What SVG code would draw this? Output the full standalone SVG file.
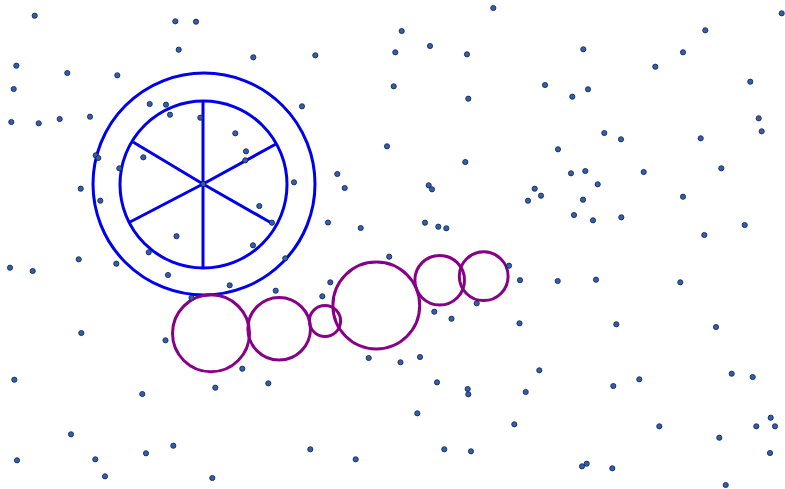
<svg xmlns="http://www.w3.org/2000/svg" width="785" height="489" viewBox="0 0 785 489">
<style>
.d{fill:#2f5fb3;stroke:#15203a;stroke-width:0.8}
.b{fill:none;stroke:#0000ee;stroke-width:3}
.p{fill:none;stroke:#880088;stroke-width:3}
</style>
<rect width="785" height="489" fill="#fff"/>
<g id="wheel">
<circle class="b" cx="204" cy="184" r="111"/>
<circle class="b" cx="203.5" cy="184.5" r="83.5"/>
<path class="b" d="M203 101V268M203 184L133 142M203 184L276 144M203 184L130 222M203 184L272.7 223.7"/>
</g>
<g id="chain">
<circle class="p" cx="211" cy="333.3" r="38.5"/>
<circle class="p" cx="279.2" cy="328.7" r="31.3"/>
<circle class="p" cx="325" cy="321" r="15.6"/>
<circle class="p" cx="376.3" cy="305.5" r="43.4"/>
<circle class="p" cx="439.7" cy="280.2" r="24.8"/>
<circle class="p" cx="483.7" cy="276.2" r="24.4"/>
</g>
<g id="dots">
<circle class="d" cx="34.7" cy="15.7" r="2.6"/>
<circle class="d" cx="175.3" cy="21.3" r="2.6"/>
<circle class="d" cx="196" cy="21.7" r="2.6"/>
<circle class="d" cx="178.7" cy="49.7" r="2.6"/>
<circle class="d" cx="253.3" cy="57.3" r="2.6"/>
<circle class="d" cx="315.3" cy="55.3" r="2.6"/>
<circle class="d" cx="395.3" cy="52.3" r="2.6"/>
<circle class="d" cx="401.7" cy="31" r="2.6"/>
<circle class="d" cx="16.3" cy="65.7" r="2.6"/>
<circle class="d" cx="67.3" cy="73" r="2.6"/>
<circle class="d" cx="117.3" cy="75.3" r="2.6"/>
<circle class="d" cx="13.7" cy="89" r="2.6"/>
<circle class="d" cx="393.7" cy="86.3" r="2.6"/>
<circle class="d" cx="11.3" cy="122" r="2.6"/>
<circle class="d" cx="38.7" cy="123.3" r="2.6"/>
<circle class="d" cx="59.7" cy="119" r="2.6"/>
<circle class="d" cx="90" cy="116.7" r="2.6"/>
<circle class="d" cx="149.7" cy="104" r="2.6"/>
<circle class="d" cx="166" cy="104.7" r="2.6"/>
<circle class="d" cx="170" cy="114.7" r="2.6"/>
<circle class="d" cx="200.3" cy="117.7" r="2.6"/>
<circle class="d" cx="302" cy="106.3" r="2.6"/>
<circle class="d" cx="235.3" cy="133.3" r="2.6"/>
<circle class="d" cx="246" cy="151.3" r="2.6"/>
<circle class="d" cx="245.3" cy="160.3" r="2.6"/>
<circle class="d" cx="387" cy="146.3" r="2.6"/>
<circle class="d" cx="95.7" cy="155.3" r="2.6"/>
<circle class="d" cx="98.3" cy="158" r="2.6"/>
<circle class="d" cx="143.3" cy="157.3" r="2.6"/>
<circle class="d" cx="119.3" cy="168.3" r="2.6"/>
<circle class="d" cx="203.3" cy="184" r="2.6"/>
<circle class="d" cx="294" cy="182.3" r="2.6"/>
<circle class="d" cx="337.3" cy="174" r="2.6"/>
<circle class="d" cx="344.7" cy="188" r="2.6"/>
<circle class="d" cx="80.7" cy="188.7" r="2.6"/>
<circle class="d" cx="100.3" cy="200.7" r="2.6"/>
<circle class="d" cx="259.3" cy="206" r="2.6"/>
<circle class="d" cx="272" cy="222.7" r="2.6"/>
<circle class="d" cx="328" cy="222.5" r="2.6"/>
<circle class="d" cx="360.7" cy="228" r="2.6"/>
<circle class="d" cx="176.5" cy="236.2" r="2.6"/>
<circle class="d" cx="253" cy="245.3" r="2.6"/>
<circle class="d" cx="285.3" cy="258.3" r="2.6"/>
<circle class="d" cx="10" cy="267.7" r="2.6"/>
<circle class="d" cx="32.7" cy="271" r="2.6"/>
<circle class="d" cx="78.7" cy="259.3" r="2.6"/>
<circle class="d" cx="116.3" cy="263.7" r="2.6"/>
<circle class="d" cx="148.7" cy="252.3" r="2.6"/>
<circle class="d" cx="168" cy="275" r="2.6"/>
<circle class="d" cx="229.7" cy="285.3" r="2.6"/>
<circle class="d" cx="275.7" cy="290.7" r="2.6"/>
<circle class="d" cx="191.5" cy="297.8" r="2.6"/>
<circle class="d" cx="330.3" cy="282.3" r="2.6"/>
<circle class="d" cx="322.3" cy="296.3" r="2.6"/>
<circle class="d" cx="389.2" cy="256.7" r="2.6"/>
<circle class="d" cx="81.3" cy="333" r="2.6"/>
<circle class="d" cx="165.5" cy="340.3" r="2.6"/>
<circle class="d" cx="242.3" cy="368.7" r="2.6"/>
<circle class="d" cx="14.3" cy="379.7" r="2.6"/>
<circle class="d" cx="142.3" cy="394" r="2.6"/>
<circle class="d" cx="215.3" cy="387.7" r="2.6"/>
<circle class="d" cx="268.3" cy="383.3" r="2.6"/>
<circle class="d" cx="368.7" cy="358" r="2.6"/>
<circle class="d" cx="400.5" cy="362.3" r="2.6"/>
<circle class="d" cx="420" cy="357" r="2.6"/>
<circle class="d" cx="71" cy="434.3" r="2.6"/>
<circle class="d" cx="17" cy="460.3" r="2.6"/>
<circle class="d" cx="95.3" cy="459.3" r="2.6"/>
<circle class="d" cx="105" cy="476.3" r="2.6"/>
<circle class="d" cx="146" cy="453.3" r="2.6"/>
<circle class="d" cx="173.3" cy="445.7" r="2.6"/>
<circle class="d" cx="212.3" cy="478" r="2.6"/>
<circle class="d" cx="310.3" cy="449.3" r="2.6"/>
<circle class="d" cx="355.7" cy="459.3" r="2.6"/>
<circle class="d" cx="509" cy="265.7" r="2.6"/>
<circle class="d" cx="520" cy="280.2" r="2.6"/>
<circle class="d" cx="476.7" cy="303.3" r="2.6"/>
<circle class="d" cx="434.3" cy="311.7" r="2.6"/>
<circle class="d" cx="451.5" cy="318.7" r="2.6"/>
<circle class="d" cx="519.5" cy="323.3" r="2.6"/>
<circle class="d" cx="493.3" cy="8" r="2.6"/>
<circle class="d" cx="781.7" cy="13.3" r="2.6"/>
<circle class="d" cx="705.3" cy="30.3" r="2.6"/>
<circle class="d" cx="430" cy="46" r="2.6"/>
<circle class="d" cx="467" cy="54.3" r="2.6"/>
<circle class="d" cx="583.3" cy="49.3" r="2.6"/>
<circle class="d" cx="683" cy="52.3" r="2.6"/>
<circle class="d" cx="655.3" cy="66.7" r="2.6"/>
<circle class="d" cx="750.3" cy="81.7" r="2.6"/>
<circle class="d" cx="545" cy="85" r="2.6"/>
<circle class="d" cx="588" cy="89.3" r="2.6"/>
<circle class="d" cx="572.3" cy="96.7" r="2.6"/>
<circle class="d" cx="468.3" cy="98.7" r="2.6"/>
<circle class="d" cx="758.7" cy="118.3" r="2.6"/>
<circle class="d" cx="761.7" cy="131.3" r="2.6"/>
<circle class="d" cx="604.3" cy="133" r="2.6"/>
<circle class="d" cx="621" cy="139.3" r="2.6"/>
<circle class="d" cx="700.7" cy="138.3" r="2.6"/>
<circle class="d" cx="558" cy="149.3" r="2.6"/>
<circle class="d" cx="465.3" cy="162" r="2.6"/>
<circle class="d" cx="571" cy="173.3" r="2.6"/>
<circle class="d" cx="585.3" cy="171" r="2.6"/>
<circle class="d" cx="643.7" cy="172" r="2.6"/>
<circle class="d" cx="721.3" cy="168.3" r="2.6"/>
<circle class="d" cx="428.7" cy="185.3" r="2.6"/>
<circle class="d" cx="432" cy="189.3" r="2.6"/>
<circle class="d" cx="597.7" cy="184.3" r="2.6"/>
<circle class="d" cx="534.7" cy="188.7" r="2.6"/>
<circle class="d" cx="541" cy="195.7" r="2.6"/>
<circle class="d" cx="528" cy="200.7" r="2.6"/>
<circle class="d" cx="583" cy="199.7" r="2.6"/>
<circle class="d" cx="683" cy="196.7" r="2.6"/>
<circle class="d" cx="425" cy="222.7" r="2.6"/>
<circle class="d" cx="438.3" cy="226.7" r="2.6"/>
<circle class="d" cx="446.3" cy="228.3" r="2.6"/>
<circle class="d" cx="574" cy="215" r="2.6"/>
<circle class="d" cx="593" cy="220.3" r="2.6"/>
<circle class="d" cx="621.3" cy="217.3" r="2.6"/>
<circle class="d" cx="744.7" cy="225" r="2.6"/>
<circle class="d" cx="704.3" cy="235" r="2.6"/>
<circle class="d" cx="557.7" cy="281" r="2.6"/>
<circle class="d" cx="596" cy="279.7" r="2.6"/>
<circle class="d" cx="680.3" cy="282.3" r="2.6"/>
<circle class="d" cx="616.3" cy="324.3" r="2.6"/>
<circle class="d" cx="716" cy="327" r="2.6"/>
<circle class="d" cx="539.3" cy="370.3" r="2.6"/>
<circle class="d" cx="437" cy="382.3" r="2.6"/>
<circle class="d" cx="467.7" cy="389" r="2.6"/>
<circle class="d" cx="468.3" cy="394.3" r="2.6"/>
<circle class="d" cx="525.7" cy="392" r="2.6"/>
<circle class="d" cx="613.3" cy="386" r="2.6"/>
<circle class="d" cx="639.3" cy="379.3" r="2.6"/>
<circle class="d" cx="731.7" cy="373.7" r="2.6"/>
<circle class="d" cx="752.7" cy="377" r="2.6"/>
<circle class="d" cx="417.3" cy="413.3" r="2.6"/>
<circle class="d" cx="514.3" cy="424.3" r="2.6"/>
<circle class="d" cx="659.3" cy="426.3" r="2.6"/>
<circle class="d" cx="770.7" cy="417.7" r="2.6"/>
<circle class="d" cx="756.3" cy="426.3" r="2.6"/>
<circle class="d" cx="775" cy="426.3" r="2.6"/>
<circle class="d" cx="719.3" cy="437.7" r="2.6"/>
<circle class="d" cx="770" cy="453" r="2.6"/>
<circle class="d" cx="444.3" cy="449.3" r="2.6"/>
<circle class="d" cx="471" cy="451.3" r="2.6"/>
<circle class="d" cx="582" cy="466.3" r="2.6"/>
<circle class="d" cx="586.7" cy="463.7" r="2.6"/>
<circle class="d" cx="612.3" cy="468.3" r="2.6"/>
<circle class="d" cx="725.7" cy="485" r="2.6"/>
</g>
</svg>
